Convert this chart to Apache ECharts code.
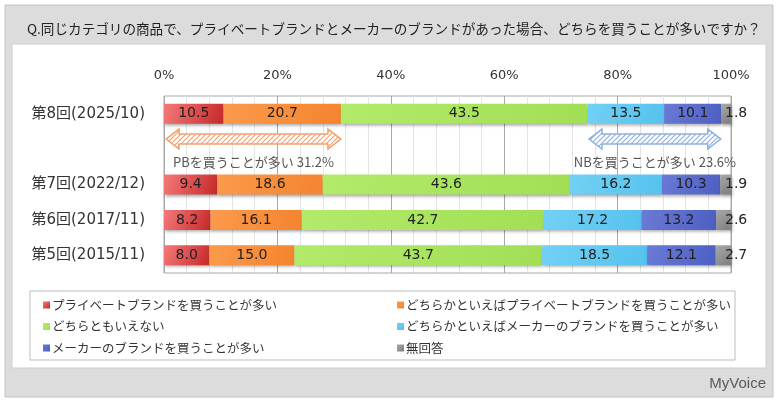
<!DOCTYPE html>
<html><head><meta charset="utf-8">
<script src="https://cdn.jsdelivr.net/npm/echarts@6/dist/echarts.min.js"></script>
<style>html,body{margin:0;padding:0;background:#fff}#c{width:780px;height:405px}</style>
</head><body><div id="c"></div>
<script>
const titleText = 'Q.同じカテゴリの商品で、プライベートブランドとメーカーのブランドがあった場合、どちらを買うことが多いですか？';
const categories = ['第8回(2025/10)', '', '第7回(2022/12)', '第6回(2017/11)', '第5回(2015/11)'];
const seriesNames = ['プライベートブランドを買うことが多い', 'どちらかといえばプライベートブランドを買うことが多い', 'どちらともいえない', 'どちらかといえばメーカーのブランドを買うことが多い', 'メーカーのブランドを買うことが多い', '無回答'];
const pb      = [10.5, null, 9.4, 8.2, 8.0];
const pbLean  = [20.7, null, 18.6, 16.1, 15.0];
const neutral = [43.5, null, 43.6, 42.7, 43.7];
const nbLean  = [13.5, null, 16.2, 17.2, 18.5];
const nb      = [10.1, null, 10.3, 13.2, 12.1];
const noAns   = [1.8, null, 1.9, 2.6, 2.7];
const xTicks = [0, 20, 40, 60, 80, 100];
const arrowStart = [0, 74.6];
const arrowEnd = [31.2, 98.2];
const arrowLabels = ['PBを買うことが多い 31.2%', 'NBを買うことが多い 23.6%'];
const arrowRow = '';

const FONT = '"Noto Sans CJK JP", "Noto Sans", sans-serif';
const NUMFONT = '"DejaVu Sans", "Noto Sans CJK JP", sans-serif';
const colors = [
  ['#f47a7a', '#c62828'],
  ['#fb9a4c', '#f5842e'],
  ['#b2ea6a', '#a2df55'],
  ['#72d0f4', '#55c2ee'],
  ['#6a7ad6', '#4d5fc2'],
  ['#a8a8a8', '#7e7e7e']
];
const arrowColors = ['#f5a070', '#8fb0e0'];

function makePattern(col) {
  const c = document.createElement('canvas');
  c.width = 5; c.height = 5;
  const g = c.getContext('2d');
  g.fillStyle = '#fff'; g.fillRect(0, 0, 5, 5);
  g.strokeStyle = col; g.lineWidth = 1.2;
  g.beginPath();
  g.moveTo(-1, 6); g.lineTo(6, -1);
  g.moveTo(-1, 1); g.lineTo(1, -1);
  g.moveTo(4, 6); g.lineTo(6, 4);
  g.stroke();
  return c;
}
const patterns = arrowColors.map(makePattern);

const values = [pb, pbLean, neutral, nbLean, nb, noAns];
const barSeries = values.map((arr, i) => ({
  name: seriesNames[i],
  type: 'bar',
  stack: 'all',
  barWidth: 20,
  data: arr.map(v => v == null ? '-' : v),
  itemStyle: {
    color: new echarts.graphic.LinearGradient(0, 0, 1, 1, [
      {offset: 0, color: colors[i][0]}, {offset: 1, color: colors[i][1]}
    ]),
    shadowColor: 'rgba(0,0,0,0.35)', shadowBlur: 3, shadowOffsetX: 1, shadowOffsetY: 2
  },
  label: {
    show: true,
    position: i === 5 ? 'right' : 'inside',
    distance: i === 5 ? -6 : 5,
    formatter: p => p.value.toFixed(1),
    color: '#222', fontSize: 14, fontFamily: NUMFONT
  },
  emphasis: {disabled: true}
}));

const arrowData = arrowStart.map((s, i) => [s, arrowEnd[i], arrowRow, arrowLabels[i], i]);

const arrowSeries = {
  type: 'custom',
  name: 'arrows',
  data: arrowData,
  encode: {x: [0, 1], y: 2},
  silent: true,
  z: 5,
  renderItem: function (params, api) {
    const s = api.coord([api.value(0), api.value(2)]);
    const e = api.coord([api.value(1), api.value(2)]);
    const idx = api.value(4);
    const x0 = s[0] + 2, x1 = e[0];
    const cy = s[1] - 10;
    const h = 13, H = 10, w = 5;
    const pts = [[x0, cy], [x0 + h, cy - H], [x0 + h, cy - w], [x1 - h, cy - w], [x1 - h, cy - H], [x1, cy],
      [x1 - h, cy + H], [x1 - h, cy + w], [x0 + h, cy + w], [x0 + h, cy + H]];
    return {
      type: 'group',
      children: [
        {type: 'polygon', shape: {points: pts},
          style: {fill: {image: patterns[idx], repeat: 'repeat'}, stroke: arrowColors[idx], lineWidth: 1.5}},
        {type: 'text', style: {text: arrowLabels[idx], x: (x0 + x1) / 2, y: s[1] + 13,
          align: 'center', verticalAlign: 'middle', fill: '#555', fontSize: 13, fontFamily: FONT}}
      ]
    };
  }
};

const legendStyle = {
  orient: 'vertical', itemWidth: 7, itemHeight: 7, itemGap: 7.5, icon: 'rect',
  textStyle: {color: '#333', fontSize: 12.5, fontFamily: FONT, lineHeight: 14, padding: [0, 0, 0, -3]},
  selectedMode: false
};

const chart = echarts.init(document.getElementById('c'), null, {renderer: 'canvas'});
chart.setOption({
  animation: false,
  textStyle: {fontFamily: FONT},
  graphic: [
    {type: 'rect', z: -10, shape: {x: 5, y: 5, width: 768, height: 392}, style: {fill: '#dcdcdc', stroke: '#c4c4c4', lineWidth: 1}},
    {type: 'rect', z: -9, shape: {x: 12, y: 44, width: 754, height: 324}, style: {fill: '#fff', stroke: '#cfcfcf', lineWidth: 1}},
    {type: 'rect', z: -8, shape: {x: 30, y: 291, width: 705, height: 69}, style: {fill: '#fff', stroke: '#bdbdbd', lineWidth: 1}},
    {type: 'text', z: 10, style: {text: 'MyVoice', x: 766, y: 384, align: 'right', verticalAlign: 'middle',
      fill: '#5a5a5a', fontSize: 15, fontFamily: '"Liberation Sans Narrow", "Liberation Sans", sans-serif'}}
  ],
  title: {text: titleText, left: 22, top: 17, textStyle: {fontSize: 13.6, fontWeight: 'normal', color: '#222', fontFamily: FONT}},
  legend: [
    Object.assign({left: 38, top: 293, data: [seriesNames[0], seriesNames[2], seriesNames[4]]}, legendStyle),
    Object.assign({left: 392, top: 293, data: [seriesNames[1], seriesNames[3], seriesNames[5]]}, legendStyle)
  ],
  grid: {left: 164, right: 49, top: 96, bottom: 132, show: true, borderColor: '#a8a8a8', borderWidth: 1, backgroundColor: '#fff'},
  xAxis: {
    type: 'value', position: 'top', min: xTicks[0], max: xTicks[xTicks.length - 1], interval: xTicks[1] - xTicks[0],
    axisLine: {show: false}, axisTick: {show: false},
    axisLabel: {formatter: '{value}%', color: '#333', fontSize: 13, margin: 14, fontFamily: NUMFONT},
    splitLine: {show: true, lineStyle: {color: '#a8a8a8', width: 1}},
    minorTick: {show: false, splitNumber: 5},
    minorSplitLine: {show: true, lineStyle: {color: '#e4e4e4', width: 1}}
  },
  yAxis: {
    type: 'category', inverse: true, data: categories,
    axisLine: {show: false}, axisTick: {show: false},
    axisLabel: {color: '#333', fontSize: 15, margin: 19, fontFamily: NUMFONT}
  },
  series: barSeries.concat([arrowSeries])
});
</script></body></html>
